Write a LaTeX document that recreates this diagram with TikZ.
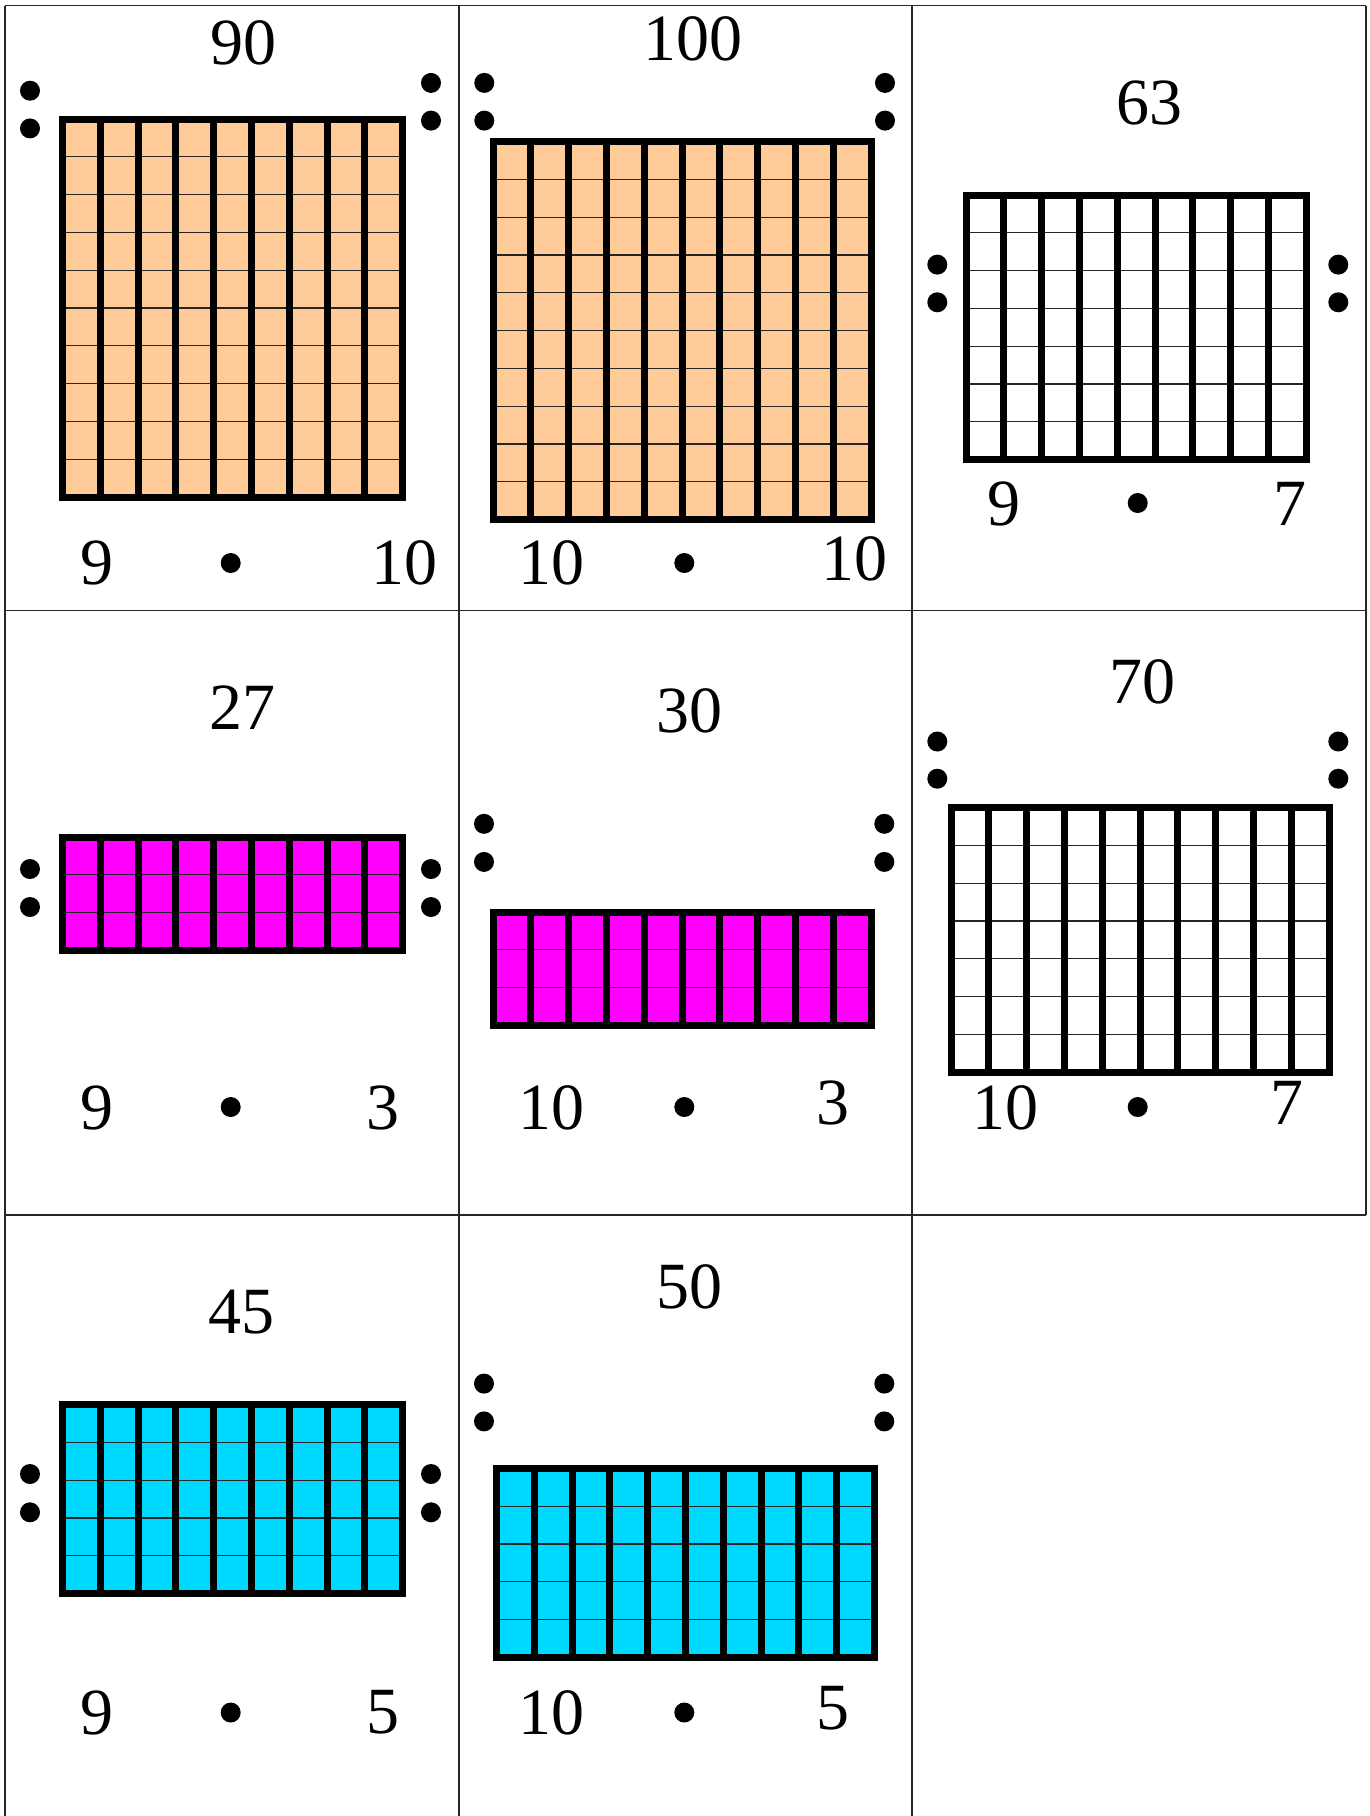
\documentclass[tikz,border=0pt]{standalone}
\usepackage{fontspec}
\setmainfont{Liberation Serif}
\definecolor{peach}{RGB}{255,204,153}
\definecolor{magb}{RGB}{255,0,255}
\definecolor{cyanb}{RGB}{0,217,255}
\newcommand\blockgrid[5]{%
  \pgfmathsetmacro\gw{#3*37.8}%
  \pgfmathsetmacro\gh{#4*37.8}%
  \fill[#5] (#1,#2) rectangle ++(\gw,\gh);
  \pgfmathtruncatemacro\rr{#4-1}%
  \foreach \j in {1,...,\rr}{\draw[gridthin] (#1,#2+\j*37.8) -- ++(\gw,0);}
  \pgfmathtruncatemacro\cc{#3-1}%
  \foreach \i in {1,...,\cc}{\draw[gridthick] (#1+\i*37.8,#2) -- ++(0,\gh);}
  \draw[gridthick] (#1,#2) rectangle ++(\gw,\gh);
}
\newcommand\dotpair[3]{%
  \fill[dotfill] (#1,#2) circle[radius=10pt];
  \fill[dotfill] (#1,#3) circle[radius=10pt];
}
\begin{document}
\begin{tikzpicture}[x=1pt,y=-1pt,
  cardline/.style={line width=1.3pt, draw=black!85},
  gridthin/.style={line width=1.2pt, draw=black!85},
  gridthick/.style={line width=7pt, draw=black},
  num/.style={font=\fontsize{66}{70}\selectfont, inner sep=0pt, anchor=base},
  dotfill/.style={fill=black}]
\useasboundingbox (0,0) rectangle (1369,1816);
\fill[white] (0,0) rectangle (1369,1816);
% card borders
\draw[cardline] (5,5.5) -- (1366,5.5);
\draw[cardline] (5,610.5) -- (1366,610.5);
\draw[cardline] (5,1215) -- (1366,1215);
\draw[cardline] (5,5.5) -- (5,1816);
\draw[cardline] (459,5.5) -- (459,1816);
\draw[cardline] (912,5.5) -- (912,1816);
\draw[cardline] (1366,5.5) -- (1366,1215);
% grids
\blockgrid{62.5}{119}{9}{10}{peach}
\blockgrid{493}{141.5}{10}{10}{peach}
\blockgrid{966}{195}{9}{7}{white}
\blockgrid{62.5}{837}{9}{3}{magb}
\blockgrid{493}{912}{10}{3}{magb}
\blockgrid{951}{807.5}{10}{7}{white}
\blockgrid{62.5}{1404.6}{9}{5}{cyanb}
\blockgrid{496.5}{1468.4}{10}{5}{cyanb}
% side dots
\dotpair{30}{90.7}{128.4}\dotpair{431}{82.9}{120.6}
\dotpair{484.3}{82.9}{120.6}\dotpair{885}{82.9}{120.6}
\dotpair{937.3}{264.6}{302.3}\dotpair{1338.3}{264.6}{302.3}
\dotpair{30}{869}{907}\dotpair{431}{869}{907}
\dotpair{484}{823.8}{861.9}\dotpair{884.3}{823.8}{861.9}
\dotpair{937.3}{741.5}{778.7}\dotpair{1338.3}{741.5}{778.7}
\dotpair{30}{1474}{1512.3}\dotpair{431}{1474}{1512.3}
\dotpair{484}{1383.6}{1421.4}\dotpair{884.3}{1383.6}{1421.4}
% middle bullets
\fill[dotfill] (230.7,563) circle[radius=10pt];
\fill[dotfill] (684.3,563) circle[radius=10pt];
\fill[dotfill] (1137.7,503) circle[radius=10pt];
\fill[dotfill] (230.7,1107) circle[radius=10pt];
\fill[dotfill] (684.3,1107) circle[radius=10pt];
\fill[dotfill] (1137.7,1107) circle[radius=10pt];
\fill[dotfill] (230.7,1712.5) circle[radius=10pt];
\fill[dotfill] (684.3,1712.5) circle[radius=10pt];
% top numbers
\node[num] (t1) at (243,64) {90};
\node[num] (t2) at (693,60) {100};
\node[num] (t3) at (1149,124) {63};
\node[num] (t4) at (242,729) {27};
\node[num] (t5) at (689.5,732.5) {30};
\node[num] (t6) at (1142.5,703) {70};
\node[num] (t7) at (241.7,1333) {45};
\node[num] (t8) at (689.3,1308) {50};
% factors
\node[num] (l1) at (96.7,584) {9};
\node[num] (r1) at (404,584) {10};
\node[num] (l2) at (551.7,584) {10};
\node[num] (r2) at (854,580.5) {10};
\node[num] (l3) at (1004,525) {9};
\node[num] (r3) at (1290,525) {7};
\node[num] (l4) at (96.7,1129) {9};
\node[num] (r4) at (383.3,1129) {3};
\node[num] (l5) at (551.7,1129) {10};
\node[num] (r5) at (833.3,1124.6) {3};
\node[num] (l6) at (1005.5,1129) {10};
\node[num] (r6) at (1286.7,1124.6) {7};
\node[num] (l7) at (96.7,1734) {9};
\node[num] (r7) at (383.3,1733) {5};
\node[num] (l8) at (551.3,1734) {10};
\node[num] (r8) at (833.3,1729) {5};
\end{tikzpicture}
\end{document}
